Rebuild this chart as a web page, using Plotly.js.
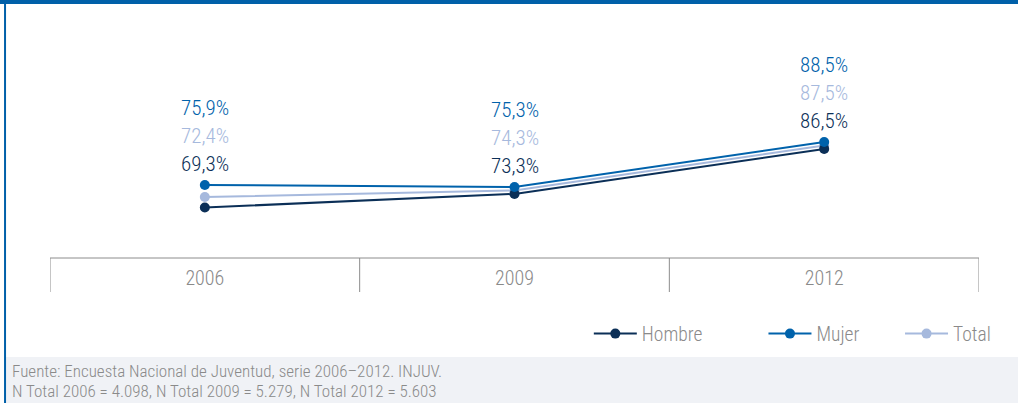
<!DOCTYPE html>
<html>
<head>
<meta charset="utf-8">
<script src="https://cdn.plot.ly/plotly-3.0.1.min.js"></script>
<style>
html,body{margin:0;padding:0;background:#fff;}
#chart{width:1018px;height:403px;}
</style>
</head>
<body>
<div id="chart"></div>
<script>
const years = ['2006', '2009', '2012'];
const hombre = [69.3, 73.3, 86.5];
const mujer = [75.9, 75.3, 88.5];
const total = [72.4, 74.3, 87.5];
const seriesNames = ['Hombre', 'Mujer', 'Total'];
const fuente = 'Fuente: Encuesta Nacional de Juventud, serie 2006–2012. INJUV.';
const nTotal = 'N Total 2006 = 4.098, N Total 2009 = 5.279, N Total 2012 = 5.603';

const C_H = '#0b2f57', C_M = '#0062ab', C_T = '#a6b9dd';
const FONT = "'Roboto Condensed', 'Liberation Sans Narrow', 'DejaVu Sans Condensed', Roboto, sans-serif";
const GRAY = '#8a8a8a';

function fmt(v){ return v.toFixed(1).replace('.', ',') + '%'; }

const mk = (name, y, color, leg) => ({
  type: 'scatter', mode: 'lines+markers', name: name, x: years, y: y,
  line: {color: color, width: 2}, marker: {color: color, size: 10},
  legend: leg, hoverinfo: 'skip'
});

const traces = [
  mk(seriesNames[2], total, C_T, 'legend3'),
  mk(seriesNames[0], hombre, C_H, 'legend'),
  mk(seriesNames[1], mujer, C_M, 'legend2')
];

const annotations = [];
years.forEach((yr, i) => {
  [[mujer, C_M, 77], [total, C_T, 49], [hombre, C_H, 21]].forEach(([arr, col, sh]) => {
    annotations.push({
      x: i, y: mujer[i], xref: 'x', yref: 'y', text: fmt(arr[i]),
      showarrow: false, yshift: sh, xanchor: 'center', yanchor: 'middle',
      font: {family: FONT, size: 21, color: col, weight: 300}
    });
  });
});
annotations.push({xref: 'paper', yref: 'paper', x: -0.0431, y: -0.4748, xanchor: 'left', yanchor: 'middle',
  text: fuente, showarrow: false, font: {family: FONT, size: 17, color: GRAY, weight: 300}});
annotations.push({xref: 'paper', yref: 'paper', x: -0.0431, y: -0.5588, xanchor: 'left', yanchor: 'middle',
  text: nTotal, showarrow: false, font: {family: FONT, size: 17, color: GRAY, weight: 300}});

const shapes = [
  {type: 'rect', xref: 'paper', yref: 'paper', x0: -0.0474, x1: 1.05, y0: -0.416, y1: -0.62, fillcolor: '#f0f2f6', line: {width: 0}, layer: 'below'},
  {type: 'rect', xref: 'paper', yref: 'paper', x0: -0.06, x1: 1.05, y0: 1.0672, y1: 1.1, fillcolor: '#0060a9', line: {width: 0}},
  {type: 'line', xref: 'paper', yref: 'paper', x0: -0.0484, x1: -0.0484, y0: 1.1, y1: -0.62, line: {color: '#0060a9', width: 2}},
  {type: 'line', xref: 'x', yref: 'paper', x0: -0.5, x1: 2.5, y0: 0, y1: 0, line: {color: '#8c8c8c', width: 1}}
];
[-0.5, 0.5, 1.5, 2.5].forEach(xv => shapes.push({
  type: 'line', xref: 'x', yref: 'paper', x0: xv, x1: xv, ysizemode: 'pixel', yanchor: 0, y0: 0, y1: -34,
  line: {color: '#8c8c8c', width: 1}
}));

const legBase = (x) => ({
  orientation: 'h', x: x, y: -0.319, xanchor: 'left', yanchor: 'middle',
  font: {family: FONT, size: 19.5, color: GRAY, weight: 300}, bgcolor: 'rgba(0,0,0,0)', itemwidth: 43
});

const layout = {
  width: 1018, height: 403,
  margin: {l: 50, r: 39, t: 20, b: 145},
  paper_bgcolor: '#ffffff', plot_bgcolor: '#ffffff',
  showlegend: true,
  legend: legBase(0.580),
  legend2: legBase(0.768),
  legend3: legBase(0.915),
  xaxis: {type: 'category', categoryorder: 'array', categoryarray: years, range: [-0.5, 2.5],
    showline: false, showgrid: false, zeroline: false, ticks: '', ticklabelstandoff: 6,
    tickfont: {family: FONT, size: 20, color: GRAY, weight: 300}, fixedrange: true},
  yaxis: {range: [54.5, 124.3], visible: false, showgrid: false, zeroline: false, fixedrange: true},
  annotations: annotations,
  shapes: shapes,
  hovermode: false
};

Plotly.newPlot('chart', traces, layout, {displayModeBar: false, staticPlot: true});
</script>
</body>
</html>
